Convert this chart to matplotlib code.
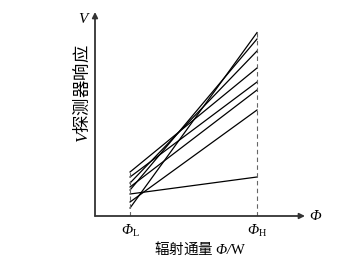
import numpy as np
import matplotlib.pyplot as plt

plt.rcParams['font.family'] = ['Noto Sans CJK SC', 'DejaVu Sans']
plt.rcParams['mathtext.fontset'] = 'custom'
plt.rcParams['mathtext.rm'] = 'Liberation Serif:italic'
plt.rcParams['mathtext.it'] = 'Liberation Serif:italic'
plt.rcParams['mathtext.sf'] = 'Liberation Serif'

# detector responses at the two flux levels (arbitrary units)
phi_pos = [1.0, 2.0]
resp_low = [4, 7, 11, 13, 14.5, 16.5, 19.5, 22]
resp_high = [91.7, 53, 19.5, 88.5, 63, 82.5, 67, 74]
tick_labels = [r'$\Phi_{\mathsf{L}}$', r'$\Phi_{\mathsf{H}}$']

W, H = 357, 258
fig = plt.figure(figsize=(W / 100, H / 100), dpi=100)
ax = fig.add_axes([95 / W, 1 - 216 / H, 210 / W, 204 / H])
ax.set_xlim(0.724, 2.378)
ax.set_ylim(0, 102)
ax.axis('off')

for lo, hi in zip(resp_low, resp_high):
    ax.plot(phi_pos, [lo, hi], color='black', lw=0.9)

ax.plot([phi_pos[0]] * 2, [0, max(resp_low)], ls=(0, (4, 3)), color='#666666', lw=0.8)
ax.plot([phi_pos[1]] * 2, [0, max(resp_high) + 1.5], ls=(0, (4, 3)), color='#666666', lw=0.8)

# axes with arrows
ax.annotate('', xy=(1, 0), xytext=(0, 0), xycoords='axes fraction',
            arrowprops=dict(arrowstyle='-|>', color='#333333', lw=1.3,
                            mutation_scale=8, shrinkA=0, shrinkB=0))
ax.annotate('', xy=(0, 1), xytext=(0, 0), xycoords='axes fraction',
            arrowprops=dict(arrowstyle='-|>', color='#333333', lw=1.3,
                            mutation_scale=8, shrinkA=0, shrinkB=0))

for x, lab in zip(phi_pos, tick_labels):
    ax.text(x, -3.5, lab, ha='center', va='top', fontsize=10.5, clip_on=False)

ax.text(1.05, 0, r'$\Phi$', transform=ax.transAxes, ha='center', va='center',
        fontsize=11)
ax.text(0.5, -0.115, r'辐射通量 $\Phi/\mathsf{W}$', transform=ax.transAxes,
        ha='center', va='top', fontsize=10.5)
ax.text(-0.063, 0.60, r'$V$探测器响应', transform=ax.transAxes, ha='center',
        va='center', rotation=90, fontsize=12.5)
ax.text(-0.052, 0.97, r'$V$', transform=ax.transAxes, ha='center',
        va='center', fontsize=11)

fig.savefig('out.png', dpi=100)
